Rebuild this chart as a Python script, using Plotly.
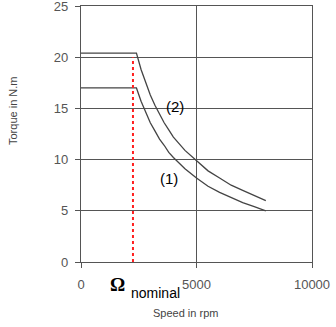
import plotly.graph_objects as go

speed = [0, 2400, 2600, 2800, 3000, 3200, 3400, 3600, 3800, 4000, 4500, 5000, 5500, 6000, 6500, 7000, 7500, 8000]
torque1 = [17.0, 17.0, 15.7, 14.6, 13.6, 12.8, 12.0, 11.4, 10.7, 10.2, 9.1, 8.2, 7.4, 6.8, 6.3, 5.8, 5.4, 5.0]
torque2 = [20.4, 20.4, 18.8, 17.5, 16.3, 15.3, 14.4, 13.6, 12.9, 12.2, 10.9, 9.9, 8.9, 8.2, 7.5, 7.0, 6.5, 6.0]
nominal_speed = [2250, 2250]
nominal_torque = [0, 20.0]
x_ticks = [0, 5000, 10000]
y_ticks = [0, 5, 10, 15, 20, 25]

W, H = 336, 327
L, R, T, B = 81, 24, 6, 65
pw, ph = W - L - R, H - T - B

def px(xp):
    return (xp - L) / pw

def py(yp):
    return (H - B - yp) / ph

fig = go.Figure()
fig.add_trace(go.Scatter(x=speed, y=torque1, mode="lines",
                         line=dict(color="#444", width=1.3)))
fig.add_trace(go.Scatter(x=speed, y=torque2, mode="lines",
                         line=dict(color="#444", width=1.3)))
fig.add_trace(go.Scatter(x=nominal_speed, y=nominal_torque, mode="lines",
                         line=dict(color="#ff2020", width=2, dash="dot")))

fig.add_annotation(x=4070, y=15.2, text="(2)", showarrow=False,
                   font=dict(family="Arial", size=15, color="black"))
fig.add_annotation(x=3810, y=8.2, text="(1)", showarrow=False,
                   font=dict(family="Arial", size=15, color="black"))

def paper_text(text, xp, yp, size, family="Arial", color="black", angle=0):
    fig.add_annotation(x=px(xp), y=py(yp), xref="paper", yref="paper", text=text,
                       showarrow=False, xanchor="center", yanchor="middle",
                       textangle=angle, font=dict(family=family, size=size, color=color))

paper_text("<b>Ω</b>", 117, 284, 19, family="Liberation Serif")
paper_text("nominal", 155, 293, 14)
paper_text("Speed in rpm", 185, 313, 11, color="#444")
paper_text("Torque in N.m", 13, 111, 11, color="#444", angle=-90)

fig.update_layout(
    width=W, height=H,
    margin=dict(l=L, r=R, t=T, b=B, autoexpand=False),
    plot_bgcolor="white", paper_bgcolor="white",
    showlegend=False,
    font=dict(family="Arial", size=13, color="#555"),
)
fig.update_xaxes(range=[0, 10000], tickvals=x_ticks, ticktext=[str(v) for v in x_ticks],
                 showgrid=True, gridcolor="#555", gridwidth=1.2,
                 showline=True, linecolor="#555", linewidth=1.2, mirror=True,
                 ticks="outside", ticklen=5, tickcolor="#555", zeroline=False,
                 ticklabelstandoff=5, ticklabeloverflow="allow", automargin=False,
                 tickfont=dict(size=13, color="#555"))
fig.update_yaxes(range=[0, 25], tickvals=y_ticks,
                 showgrid=True, gridcolor="#555", gridwidth=1.2,
                 showline=True, linecolor="#555", linewidth=1.2, mirror=True,
                 ticks="outside", ticklen=5, tickcolor="#555", zeroline=False,
                 ticklabelstandoff=4, ticklabeloverflow="allow", automargin=False,
                 tickfont=dict(size=13, color="#555"))

fig.write_html("out.html")
